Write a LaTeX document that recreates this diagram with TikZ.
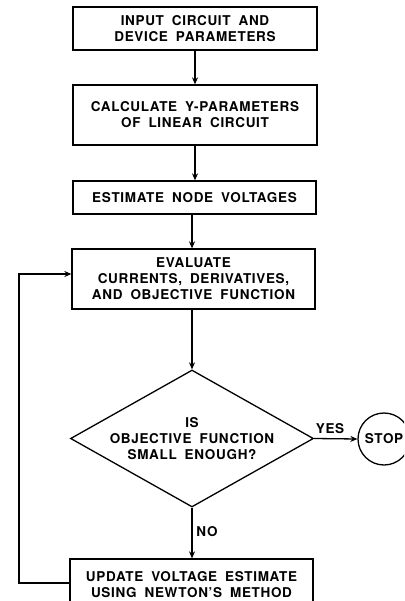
\documentclass[tikz,border=0pt]{standalone}
\usepackage{fontspec}
\setmainfont{TeX Gyre Heros}[LetterSpace=5,WordSpace=1.8]
\usetikzlibrary{shapes.geometric,arrows.meta}
\tikzset{
  lbl/.style={font=\bfseries\fontsize{13.5}{16}\selectfont},
  box/.style={draw, line width=1.3pt, inner sep=0pt, align=center, lbl},
  txt/.style={inner sep=0pt, align=center, lbl},
  arr/.style={line width=1.3pt, -{Stealth[length=7pt,width=6pt]}},
}
\begin{document}
\begin{tikzpicture}[x=1pt,y=-1pt]
\useasboundingbox (0,0) rectangle (404,601);
\clip (0,0) rectangle (404,601);
\node[box, minimum width=244pt, minimum height=43pt] (b1) at (195,28.5) {INPUT CIRCUIT AND\\DEVICE PARAMETERS};
\node[box, minimum width=244pt, minimum height=60pt] (b2) at (195,115) {CALCULATE Y-PARAMETERS\\OF LINEAR CIRCUIT};
\node[box, minimum width=243pt, minimum height=33pt] (b3) at (194.5,197.5) {ESTIMATE NODE VOLTAGES};
\node[box, minimum width=243pt, minimum height=60pt] (b4) at (193.5,279) {EVALUATE\\CURRENTS, DERIVATIVES,\\AND OBJECTIVE FUNCTION};
\node[diamond, draw, line width=1.3pt, inner sep=0pt, minimum width=243pt, minimum height=137pt] (dec) at (192,438.5) {};
\node[txt] (dect) at (dec.center) {IS\\OBJECTIVE FUNCTION\\SMALL ENOUGH?};
\node[circle, draw, line width=1.3pt, inner sep=0pt, minimum size=52pt, lbl] (stop) at (384,439) {STOP};
\node[box, minimum width=243pt, minimum height=52pt] (b5) at (191.5,585) {UPDATE VOLTAGE ESTIMATE\\USING NEWTON'S METHOD};
\draw[arr] (b1.south) -- (b1.south |- b2.north);
\draw[arr] (b2.south |- b2.south) -- (b2.south |- b3.north);
\draw[arr] (dec.north |- b3.south) -- (dec.north |- b4.north);
\draw[arr] (dec.north |- b4.south) -- (dec.north);
\draw[arr] (dec.east) -- (stop.west);
\draw[arr] (dec.south) -- (dec.south |- b5.north);
\node[txt] (yes) at (330,429) {YES};
\node[txt] (no) at (207,532) {NO};
\coordinate (lp) at (19,583);
\draw[arr] (b5.west |- lp) -- (lp) |- ([yshift=5pt]b4.west);
\end{tikzpicture}
\end{document}
